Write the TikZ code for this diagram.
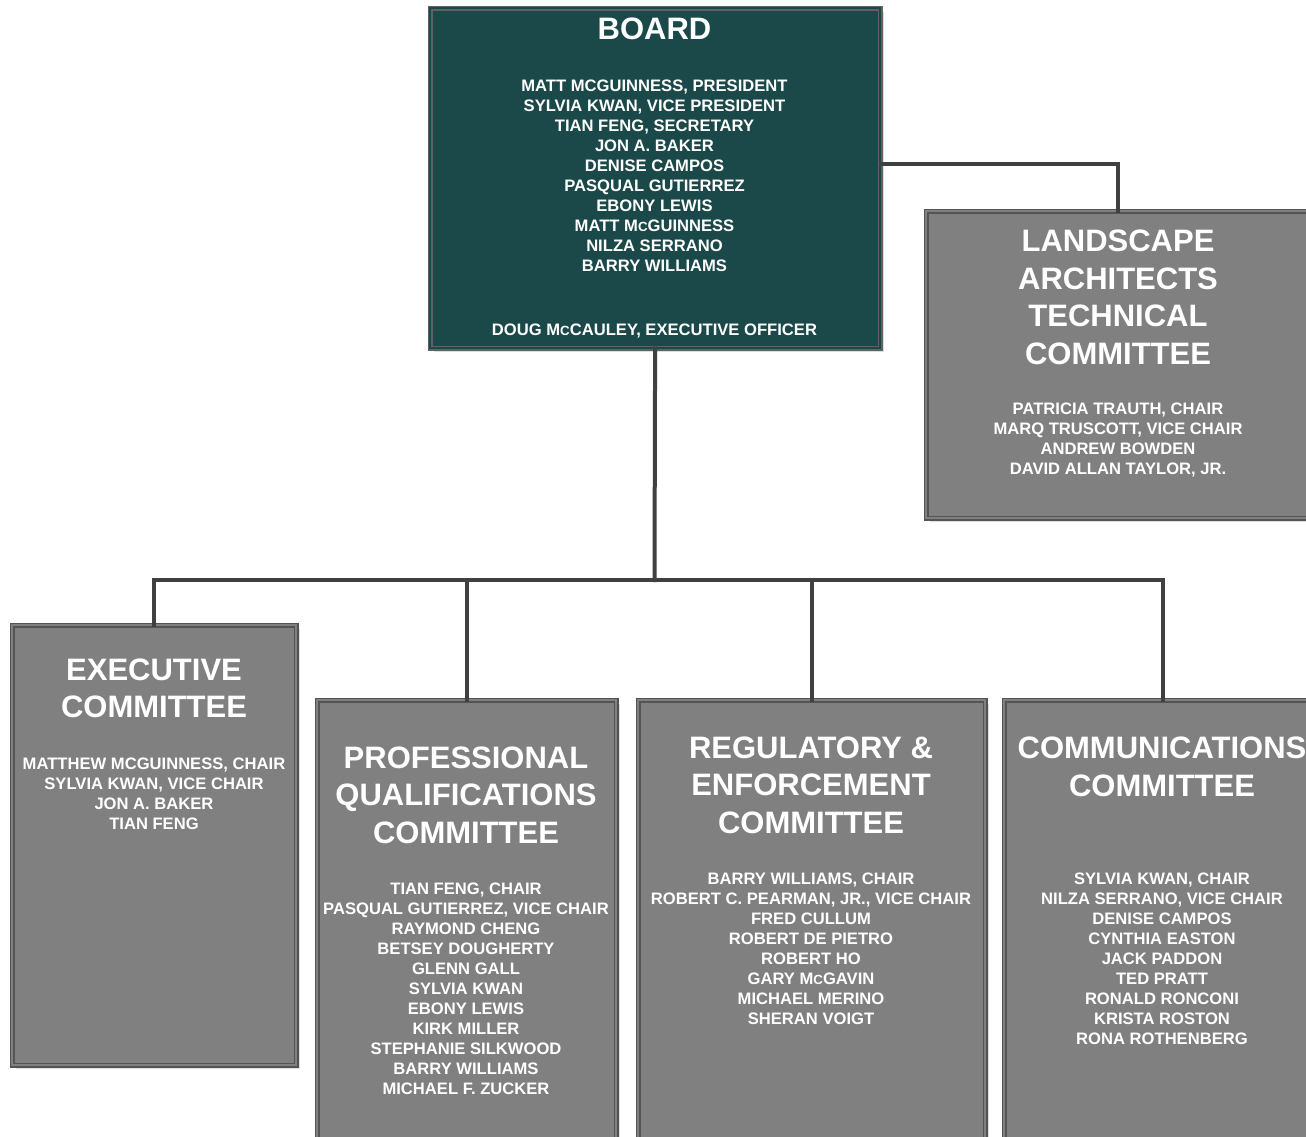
\documentclass[tikz,border=0pt]{standalone}
\usepackage{fontspec}
\setmainfont{Liberation Sans}
\usetikzlibrary{shadows}
\definecolor{boardfill}{RGB}{27,73,73}
\definecolor{boxfill}{RGB}{128,128,128}
\definecolor{edgegray}{RGB}{84,84,84}
\definecolor{conngray}{RGB}{64,64,64}
\newcommand\smallc[1]{{\fontsize{13.3}{13.3}\selectfont #1}}
\begin{document}
\begin{tikzpicture}[x=1pt,y=-1pt,
  orgbox/.style={rectangle, draw=edgegray, line width=1.2pt, double=boxfill,
    double distance=2.6pt, fill=boxfill, anchor=north west, inner sep=0pt,
    drop shadow={shadow xshift=3.5pt, shadow yshift=-3.5pt, fill=black!13, opacity=1}},
  boardbox/.style={orgbox, double=boardfill, fill=boardfill, draw=black!62},
  titletext/.style={text=white, align=center, inner sep=0pt,
    font=\fontsize{31}{37.5}\selectfont\bfseries},
  membertext/.style={text=white, align=center, inner sep=0pt,
    font=\fontsize{16.6}{20}\selectfont\bfseries},
  connector/.style={draw=conngray, line width=4pt, line cap=rect}
]
\useasboundingbox (0,0) rectangle (1306,1137);
\clip (0,0) rectangle (1306,1137);
\fill[white] (0,0) rectangle (1306,1137);

% boxes
\node[boardbox, minimum width=450pt, minimum height=340pt] (board) at (429.5,7.5) {};
\node[orgbox, minimum width=383pt, minimum height=307pt] (land) at (925.5,210.5) {};
\node[orgbox, minimum width=284pt, minimum height=440pt] (exec) at (11.5,624.5) {};
\node[orgbox, minimum width=299pt, minimum height=470pt] (pq) at (316.5,699.5) {};
\node[orgbox, minimum width=347pt, minimum height=470pt] (reg) at (637.5,699.5) {};
\node[orgbox, minimum width=317pt, minimum height=470pt] (comm) at (1003.5,699.5) {};

% connectors
\coordinate (junction) at (654.5,580);
\coordinate (boardright) at (881,164);
\draw[connector] (board.south) -- (junction);
\draw[connector] (junction) -| (exec.north);
\draw[connector] (junction) -| (pq.north);
\draw[connector] (junction) -| (reg.north);
\draw[connector] (junction) -| (comm.north);
\draw[connector] (boardright) -| (land.north);

% board texts
\node[titletext] (boardtitle) at (654.5,29) {BOARD};
\node[membertext] (boardmembers) at (654.5,176) {MATT MCGUINNESS, PRESIDENT\\
SYLVIA KWAN, VICE PRESIDENT\\
TIAN FENG, SECRETARY\\
JON A. BAKER\\
DENISE CAMPOS\\
PASQUAL GUTIERREZ\\
EBONY LEWIS\\
MATT M\smallc{C}GUINNESS\\
NILZA SERRANO\\
BARRY WILLIAMS};
\node[membertext] (boardeo) at (654.5,331) {DOUG M\smallc{C}CAULEY, EXECUTIVE OFFICER};

% landscape
\node[titletext] (landtitle) at (1118,297.5) {LANDSCAPE\\ARCHITECTS\\TECHNICAL\\COMMITTEE};
\node[membertext] (landmembers) at (1118,440) {PATRICIA TRAUTH, CHAIR\\
MARQ TRUSCOTT, VICE CHAIR\\
ANDREW BOWDEN\\
DAVID ALLAN TAYLOR, JR.};

% executive
\node[titletext] (exectitle) at (154,688.5) {EXECUTIVE\\COMMITTEE};
\node[membertext] (execmembers) at (154,794) {MATTHEW MCGUINNESS, CHAIR\\
SYLVIA KWAN, VICE CHAIR\\
JON A. BAKER\\
TIAN FENG};

% professional qualifications
\node[titletext] (pqtitle) at (466,795) {PROFESSIONAL\\QUALIFICATIONS\\COMMITTEE};
\node[membertext] (pqmembers) at (466,988.5) {TIAN FENG, CHAIR\\
PASQUAL GUTIERREZ, VICE CHAIR\\
RAYMOND CHENG\\
BETSEY DOUGHERTY\\
GLENN GALL\\
SYLVIA KWAN\\
EBONY LEWIS\\
KIRK MILLER\\
STEPHANIE SILKWOOD\\
BARRY WILLIAMS\\
MICHAEL F. ZUCKER};

% regulatory
\node[titletext] (regtitle) at (811,785) {REGULATORY \&\\ENFORCEMENT\\COMMITTEE};
\node[membertext] (regmembers) at (811,948.5) {BARRY WILLIAMS, CHAIR\\
ROBERT C. PEARMAN, JR., VICE CHAIR\\
FRED CULLUM\\
ROBERT DE PIETRO\\
ROBERT HO\\
GARY M\smallc{C}GAVIN\\
MICHAEL MERINO\\
SHERAN VOIGT};

% communications
\node[titletext] (commtitle) at (1162,767) {COMMUNICATIONS\\COMMITTEE};
\node[membertext] (commmembers) at (1162,958.5) {SYLVIA KWAN, CHAIR\\
NILZA SERRANO, VICE CHAIR\\
DENISE CAMPOS\\
CYNTHIA EASTON\\
JACK PADDON\\
TED PRATT\\
RONALD RONCONI\\
KRISTA ROSTON\\
RONA ROTHENBERG};
\end{tikzpicture}
\end{document}
